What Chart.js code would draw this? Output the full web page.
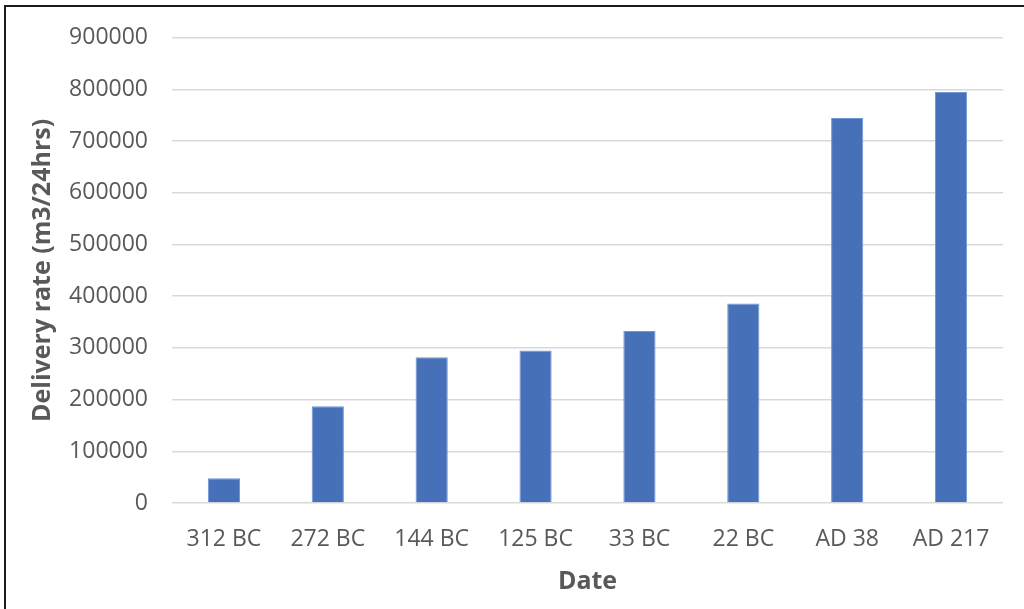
<!DOCTYPE html>
<html>
<head>
<meta charset="utf-8">
<script src="https://cdn.jsdelivr.net/npm/chart.js@4/dist/chart.umd.min.js"></script>
<style>
  html, body { margin: 0; padding: 0; background: #ffffff; }
  #wrap { position: relative; width: 1024px; height: 609px; overflow: hidden; }
  #frame { position: absolute; left: 4px; top: 5px; width: 1100px; height: 700px;
           border-left: 2px solid #1c1c1c; border-top: 2px solid #1c1c1c; pointer-events: none; }
  canvas { position: absolute; left: 0; top: 0; }
</style>
</head>
<body>
<div id="wrap">
  <canvas id="chart" width="1024" height="609"></canvas>
  <div id="frame"></div>
</div>
<script>
// Delivery rate by date
const categories = ['312 BC', '272 BC', '144 BC', '125 BC', '33 BC', '22 BC', 'AD 38', 'AD 217'];
const deliveryRate = [48000, 187000, 282000, 295000, 333000, 386000, 745000, 795000];
const yTicks = [0, 100000, 200000, 300000, 400000, 500000, 600000, 700000, 800000, 900000];

const textColor = '#595959';
const gridColor = '#d9d9d9';
const barColor = '#4670b8';
const fontFamily = '"Open Sans", "Segoe UI", sans-serif';

new Chart(document.getElementById('chart'), {
  type: 'bar',
  data: {
    labels: categories,
    datasets: [{
      label: 'Delivery rate',
      data: deliveryRate,
      backgroundColor: barColor,
      borderColor: '#7096d8',
      borderWidth: 1,
      categoryPercentage: 1.0,
      barPercentage: 0.31
    }]
  },
  options: {
    responsive: false,
    animation: false,
    devicePixelRatio: 1,
    layout: { padding: { top: 36, right: 21, bottom: 0, left: 0 } },
    plugins: { legend: { display: false }, tooltip: { enabled: false } },
    scales: {
      x: {
        grid: { display: false, drawTicks: false },
        border: { display: false },
        ticks: { color: textColor, font: { family: fontFamily, size: 23 }, padding: 23, maxRotation: 0 },
        title: { display: true, text: 'Date', color: textColor,
                 font: { family: fontFamily, size: 25, weight: 'bold' }, padding: { top: 0, bottom: 12 } },
        afterFit: (s) => { s.height = 106; }
      },
      y: {
        min: 0,
        max: 900000,
        afterBuildTicks: (s) => { s.ticks = yTicks.map(v => ({ value: v })); },
        grid: { color: gridColor, lineWidth: 1.5, drawTicks: false },
        border: { display: false },
        ticks: { color: textColor, font: { family: fontFamily, size: 23 }, padding: 24,
                 callback: (v) => String(v) },
        title: { display: true, text: 'Delivery rate (m3/24hrs)', color: textColor,
                 font: { family: fontFamily, size: 25, weight: 'bold' }, padding: { top: 28, bottom: 0 } },
        afterFit: (s) => { s.width = 172; }
      }
    }
  }
});
</script>
</body>
</html>
